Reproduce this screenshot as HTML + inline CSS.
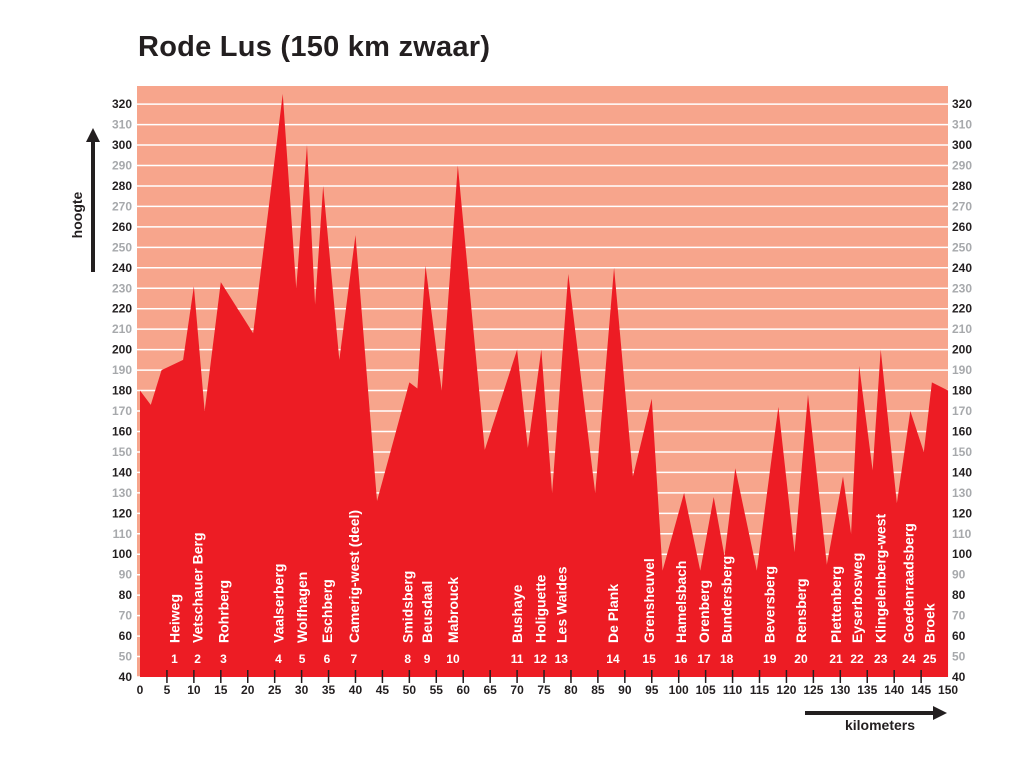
<!DOCTYPE html>
<html><head><meta charset="utf-8"><style>
body{margin:0;background:#fff;width:1029px;height:764px;overflow:hidden;font-family:"Liberation Sans",sans-serif}
</style></head><body>
<svg width="1029" height="764" id="c">
<text x="138" y="56" font-size="29" font-weight="bold" fill="#231f20" textLength="352">Rode Lus (150 km zwaar)</text>
<rect x="137" y="86" width="811" height="591" fill="#f7a58c"/>
<g id="grid"></g>
<path id="profile" fill="#ed1c24"/>
<g id="ylabels"></g><g id="xlabels"></g><g id="climbs"></g>
<line x1="93" y1="272" x2="93" y2="140" stroke="#231f20" stroke-width="4"/>
<polygon points="86,142 100,142 93,128" fill="#231f20"/>
<text transform="translate(82,215) rotate(-90)" text-anchor="middle" font-size="14" font-weight="bold" fill="#231f20">hoogte</text>
<line x1="805" y1="713" x2="935" y2="713" stroke="#231f20" stroke-width="4"/>
<polygon points="933,706 933,720 947,713" fill="#231f20"/>
<text x="880" y="730" text-anchor="middle" font-size="14" font-weight="bold" fill="#231f20">kilometers</text>
</svg>
<script>
const km=[0,2,4,8,10,12,15,21,26.5,29,31,32.5,34,37,40,44,50,51.5,53,56,59,64,70,72,74.5,76.5,79.5,84.5,88,91.5,95,97,101,104,106.5,108.5,110.5,114.5,118.5,121.5,124,127.5,130.5,132,133.5,136,137.5,140.5,143,145.5,147,150];
const height=[180,173,190,195,231,170,233,208,325,230,300,222,280,195,256,126,184,181,241,180,290,151,200,152,200,130,237,130,240,138,176,92,130,92,128,99,142,92,172,101,178,95,138,110,192,141,200,125,170,150,184,180];
const climbNums=[1,2,3,4,5,6,7,8,9,10,11,12,13,14,15,16,17,18,19,20,21,22,23,24,25];
const climbKm=[6.4,10.7,15.5,25.7,30.1,34.7,39.7,49.7,53.3,58.1,70,74.3,78.2,87.8,94.5,100.4,104.7,108.9,116.9,122.7,129.2,133.1,137.5,142.7,146.6];
const climbNames=["Heiweg","Vetschauer Berg","Rohrberg","Vaalserberg","Wolfhagen","Eschberg","Camerig-west (deel)","Smidsberg","Beusdaal","Mabrouck","Bushaye","Holiguette","Les Waides","De Plank","Grensheuvel","Hamelsbach","Orenberg","Bundersberg","Beversberg","Rensberg","Plettenberg","Eyserbosweg","Klingelenberg-west","Goedenraadsberg","Broek"];
const yTicks=[40,50,60,70,80,90,100,110,120,130,140,150,160,170,180,190,200,210,220,230,240,250,260,270,280,290,300,310,320];
const xTicks=[0,5,10,15,20,25,30,35,40,45,50,55,60,65,70,75,80,85,90,95,100,105,110,115,120,125,130,135,140,145,150];
const X=k=>140+k*5.387, Y=h=>677-(h-40)*2.046;
const NS="http://www.w3.org/2000/svg";
function mk(t,a,p){const e=document.createElementNS(NS,t);for(const k in a)e.setAttribute(k,a[k]);p.appendChild(e);return e;}
const g=document.getElementById('grid'),yl=document.getElementById('ylabels'),xl=document.getElementById('xlabels'),cl=document.getElementById('climbs');
yTicks.forEach(v=>{
 const l=mk('line',{x1:137,x2:948,y1:Y(v),y2:Y(v),stroke:'#fff','stroke-width':1.5},g);
 
 
 const col=(v%20===0)?'#231f20':'#a7a9ac';
 [[132,'end'],[952,'start']].forEach(([x,a])=>{
  const t=mk('text',{x:x,y:Y(v)+4,'text-anchor':a,'font-size':12,'font-weight':'bold',fill:col},yl);
  t.textContent=v;
  
  
 });
});
let d='M'+X(km[0])+','+Y(40);
km.forEach((k,i)=>d+=' L'+X(k)+','+Y(height[i]));
d+=' L'+X(km[km.length-1])+','+Y(40)+' Z';
document.getElementById('profile').setAttribute('d',d);
xTicks.forEach(v=>{
 if(v>0&&v<150){const l=mk('line',{x1:X(v),x2:X(v),y1:670,y2:683,stroke:'#231f20','stroke-width':1.5},xl);
 
 }
 const t=mk('text',{x:X(v),y:694,'text-anchor':'middle','font-size':12,'font-weight':'bold',fill:'#231f20'},xl);
 t.textContent=v;
 
 
});
climbNums.forEach((n,i)=>{
 const x=X(climbKm[i]);
 const t=mk('text',{x:x,y:663,'text-anchor':'middle','font-size':12,'font-weight':'bold',fill:'#fff'},cl);
 t.textContent=n;
 
 
 const nm=mk('text',{transform:'translate('+(x+5)+',643) rotate(-90)','font-size':14,'font-weight':'bold',fill:'#fff'},cl);
 nm.textContent=climbNames[i];
 
 
});
</script>
</body></html>
